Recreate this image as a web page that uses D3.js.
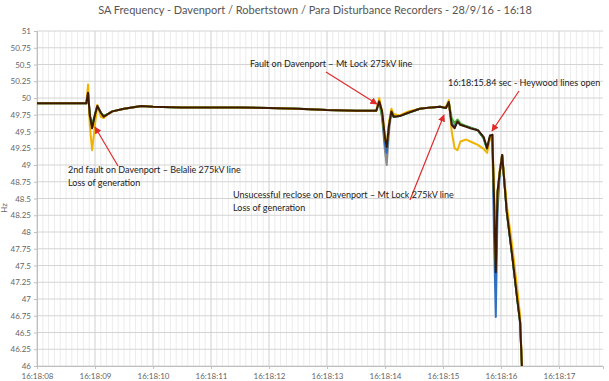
<!DOCTYPE html>
<html><head><meta charset="utf-8">
<script src="https://cdn.jsdelivr.net/npm/d3@7"></script>
<style>body{margin:0;background:#fff}svg{display:block}</style>
</head><body>
<script>
const title = "SA Frequency - Davenport / Robertstown  / Para Disturbance Recorders - 28/9/16 - 16:18";
const xTicks = [8,9,10,11,12,13,14,15,16,17];
const xTickLabels = ["16:18:08","16:18:09","16:18:10","16:18:11","16:18:12","16:18:13","16:18:14","16:18:15","16:18:16","16:18:17"];
const yTicks = [46,46.25,46.5,46.75,47,47.25,47.5,47.75,48,48.25,48.5,48.75,49,49.25,49.5,49.75,50,50.25,50.5,50.75,51];
// seconds after 16:18:00
const times = [8.0,8.85,8.88,8.91,8.95,9.0,9.04,9.1,9.15,9.22,9.3,9.5,9.8,10.0,10.5,11.0,11.5,12.0,12.5,13.0,13.5,13.85,13.9,13.95,14.0,14.03,14.07,14.11,14.15,14.25,14.4,14.6,14.8,14.95,15.05,15.1,15.15,15.2,15.25,15.3,15.4,15.5,15.6,15.7,15.76,15.81,15.85,15.88,15.91,15.94,15.98,16.02,16.1,16.2,16.28,16.33,16.36];
const grey   = [49.92,49.92,50.08,49.75,49.55,49.75,49.88,49.78,49.72,49.76,49.8,49.84,49.88,49.87,49.86,49.86,49.86,49.85,49.84,49.82,49.81,49.81,49.95,49.7,49.2,49.0,49.5,49.8,49.72,49.73,49.78,49.84,49.86,49.87,49.85,49.94,49.6,49.55,49.65,49.6,49.58,49.55,49.52,49.4,49.24,49.42,49.45,48.4,47.7,48.5,48.9,49.15,48.3,47.6,47.0,46.65,46.0];
const blue   = [49.92,49.92,50.08,49.75,49.55,49.75,49.88,49.78,49.72,49.76,49.8,49.84,49.88,49.87,49.86,49.86,49.86,49.85,49.84,49.82,49.81,49.81,49.95,49.75,49.3,49.18,49.6,49.8,49.72,49.73,49.78,49.84,49.86,49.87,49.85,49.94,49.62,49.58,49.65,49.6,49.58,49.55,49.52,49.4,49.24,49.42,49.45,47.9,46.73,48.3,48.9,49.15,48.3,47.6,47.0,46.65,46.0];
const yellow = [49.92,49.92,50.2,49.6,49.22,49.6,49.9,49.72,49.7,49.76,49.8,49.84,49.88,49.87,49.86,49.86,49.86,49.85,49.84,49.82,49.81,49.81,50.0,49.8,49.4,49.3,49.65,49.84,49.76,49.74,49.8,49.84,49.86,49.87,49.86,49.97,49.5,49.25,49.22,49.35,49.38,49.34,49.3,49.24,49.18,49.4,49.45,48.6,47.6,48.6,48.95,49.15,48.4,47.75,47.15,46.75,46.0];
const green  = [49.92,49.92,50.08,49.72,49.62,49.75,49.88,49.78,49.74,49.76,49.8,49.84,49.88,49.87,49.86,49.86,49.86,49.85,49.84,49.82,49.81,49.81,49.95,49.72,49.4,49.3,49.62,49.8,49.72,49.73,49.78,49.84,49.86,49.87,49.85,49.94,49.7,49.62,49.68,49.62,49.58,49.55,49.52,49.4,49.24,49.42,49.45,48.5,47.5,48.6,48.9,49.15,48.3,47.6,47.0,46.65,46.0];
const dark   = [49.92,49.92,50.08,49.75,49.55,49.75,49.88,49.78,49.72,49.76,49.8,49.84,49.88,49.87,49.86,49.86,49.86,49.85,49.84,49.82,49.81,49.81,49.95,49.8,49.4,49.27,49.6,49.8,49.72,49.73,49.78,49.84,49.86,49.87,49.85,49.94,49.6,49.55,49.65,49.6,49.57,49.54,49.52,49.42,49.25,49.44,49.45,48.5,47.4,48.6,48.9,49.15,48.3,47.6,47.0,46.65,46.0];
const seriesNames = ["grey","blue","green","yellow","dark"];
const seriesColors = ["#8c8c8c","#2f6fc0","#4caf3a","#f0b400","#3d1a04"];
const seriesValues = [grey, blue, green, yellow, dark];
const annotations = [
  {lines:["2nd fault on Davenport – Belalie 275kV line","Loss of generation"], tx:68, ty:173, from:[118,166], to:[95,127]},
  {lines:["Fault on Davenport – Mt Lock 275kV line"], tx:250, ty:67, from:[326,72], to:[377,104]},
  {lines:["Unsucessful reclose on Davenport – Mt Lock 275kV line","Loss of generation"], tx:233, ty:198, from:[410,200], to:[444,115]},
  {lines:["16:18:15.84 sec - Heywood lines open"], tx:448, ty:86, from:[519,91], to:[492,131]}
];

const W=609,H=381;
const m={l:37,r:603,t:31,b:366};
const svg=d3.select("body").append("svg").attr("width",W).attr("height",H);
const x=d3.scaleLinear().domain([8,8+(m.r-m.l)/58]).range([m.l,m.r]);
const y=d3.scaleLinear().domain([46,51]).range([m.b,m.t]);

// minor vertical grid
const minor=d3.range(81,178).map(d=>d/10).filter(d=>d%1!==0 && x(d)<m.r);
svg.append("g").selectAll("line").data(minor).join("line")
  .attr("x1",d=>x(d)).attr("x2",d=>x(d)).attr("y1",m.t).attr("y2",m.b)
  .attr("stroke","#ececec").attr("stroke-width",1);
// horizontal grid
svg.append("g").selectAll("line").data(yTicks).join("line")
  .attr("x1",m.l).attr("x2",m.r).attr("y1",d=>y(d)).attr("y2",d=>y(d))
  .attr("stroke","#d4d4d4").attr("stroke-width",1);
// major vertical grid
svg.append("g").selectAll("line").data(xTicks).join("line")
  .attr("x1",d=>x(d)).attr("x2",d=>x(d)).attr("y1",m.t).attr("y2",m.b)
  .attr("stroke","#cfcfcf").attr("stroke-width",1);

// axes
const ya=svg.append("g").attr("transform",`translate(${m.l},0)`)
  .call(d3.axisLeft(y).tickValues(yTicks).tickSize(3).tickFormat(d=>d3.format("")(d)));
ya.select(".domain").attr("stroke","#bfbfbf");
ya.selectAll(".tick line").attr("stroke","#bfbfbf");
ya.selectAll("text").attr("font-family","Lato, sans-serif").attr("font-size",8).attr("fill","#666");
const xa=svg.append("g").attr("transform",`translate(0,${m.b})`)
  .call(d3.axisBottom(x).tickValues(xTicks).tickSize(3).tickFormat((d,i)=>xTickLabels[i]));
xa.select(".domain").attr("stroke","#bfbfbf");
xa.selectAll(".tick line").attr("stroke","#bfbfbf");
xa.selectAll("text").attr("font-family","Lato, sans-serif").attr("font-size",8).attr("fill","#666").attr("y",7).attr("dy","0.71em");

svg.append("text").attr("transform",`translate(7,208) rotate(-90)`).attr("text-anchor","middle")
  .attr("font-family","Lato, sans-serif").attr("font-size",8).attr("fill","#666").text("Hz");

svg.append("text").attr("x",315).attr("y",14).attr("text-anchor","middle")
  .attr("font-family","Lato, sans-serif").attr("font-size",11).attr("fill","#555").text(title);

// lines
const line=d3.line().x((d,i)=>x(times[i])).y(d=>y(d));
svg.append("g").selectAll("path").data(seriesValues).join("path")
  .attr("d",d=>line(d)).attr("fill","none")
  .attr("stroke",(d,i)=>seriesColors[i]).attr("stroke-width",2).attr("stroke-linejoin","round");

// annotations
svg.append("defs").append("marker").attr("id","ah").attr("viewBox","0 0 10 10")
  .attr("refX",9).attr("refY",5).attr("markerWidth",6).attr("markerHeight",6).attr("orient","auto")
  .append("path").attr("d","M0,0L10,5L0,10z").attr("fill","#e02b2b");
const ag=svg.append("g");
annotations.forEach(a=>{
  ag.append("line").attr("x1",a.from[0]).attr("y1",a.from[1]).attr("x2",a.to[0]).attr("y2",a.to[1])
    .attr("stroke","#e02b2b").attr("stroke-width",1.2).attr("marker-end","url(#ah)");
  a.lines.forEach((t,i)=>{
    ag.append("text").attr("x",a.tx).attr("y",a.ty+i*13).attr("font-family","Lato, sans-serif")
      .attr("font-size",9).attr("fill","#222").text(t);
  });
});
</script>
</body></html>
